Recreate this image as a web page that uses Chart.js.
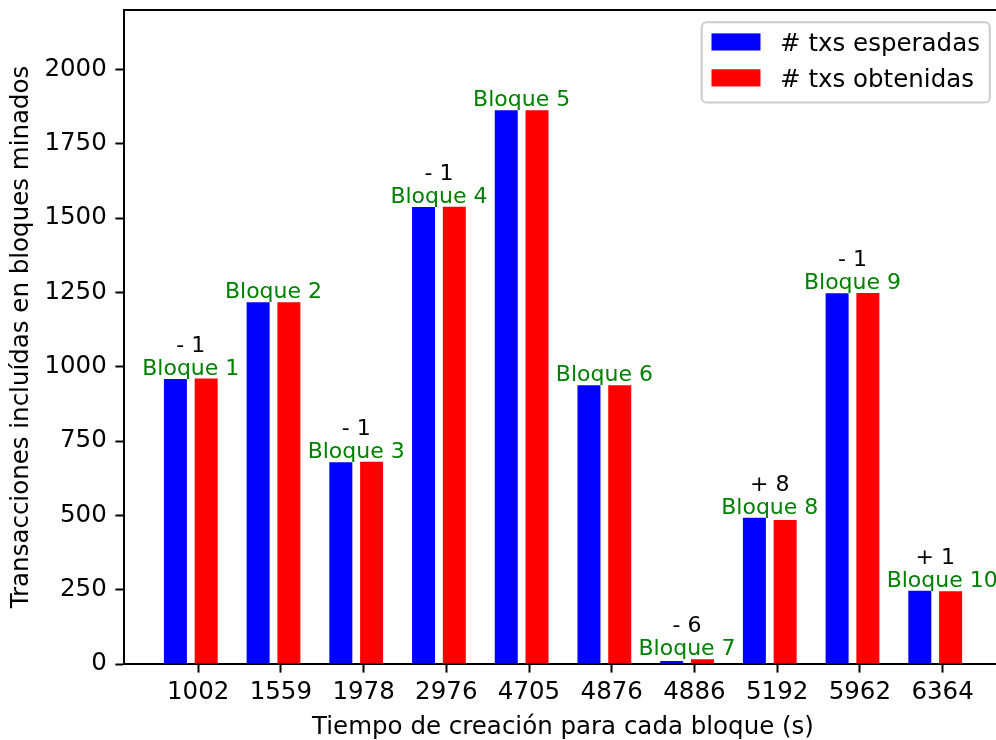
<!DOCTYPE html>
<html>
<head>
<meta charset="utf-8">
<script src="https://cdn.jsdelivr.net/npm/chart.js@4/dist/chart.umd.min.js"></script>
<style>
  html, body { margin: 0; padding: 0; background: #fff; overflow: hidden; }
  #wrap { width: 996px; height: 740px; overflow: hidden; }
  canvas { display: block; }
</style>
</head>
<body>
<div id="wrap"><canvas id="chart" width="1010" height="740" style="width:1010px;height:740px"></canvas></div>
<script>
// Creation time of each block (s), used as category labels
const BLOCK_TIMES = ['1002', '1559', '1978', '2976', '4705', '4876', '4886', '5192', '5962', '6364'];
const BLOCK_NAMES = ['Bloque 1', 'Bloque 2', 'Bloque 3', 'Bloque 4', 'Bloque 5',
                     'Bloque 6', 'Bloque 7', 'Bloque 8', 'Bloque 9', 'Bloque 10'];
// Transactions per mined block
const EXPECTED_TXS = [959, 1217, 679, 1537, 1863, 938, 10, 492, 1247, 246];
const OBTAINED_TXS = [960, 1217, 680, 1538, 1863, 938, 16, 484, 1248, 245];
const SERIES_LABELS = ['# txs esperadas', '# txs obtenidas'];
// Value axis ticks
const Y_TICKS = [0, 250, 500, 750, 1000, 1250, 1500, 1750, 2000];
const Y_MAX = 2200;

// Bar geometry in category units
const BAR_WIDTH = 0.278;
const BLUE_SHIFT = -0.275;
const RED_SHIFT = 0.097;
const PAIR_CENTER = (BLUE_SHIFT + RED_SHIFT) / 2;
// Block names start at a fixed offset left of each bar pair
const NAME_LEFT = PAIR_CENTER - 0.587;

const FONT = "'DejaVu Sans', 'Liberation Sans', sans-serif";
const BASE_SIZE = 24.5;
const LABEL_SIZE = 22;

Chart.defaults.font.family = FONT;
Chart.defaults.font.size = BASE_SIZE;
Chart.defaults.color = '#000';

const toPoints = (vals, shift) => vals.map((v, i) => ({ x: i + shift, y: v }));

// x limits: data extent plus 5% margin on both sides
const dataLo = BLUE_SHIFT - BAR_WIDTH / 2;
const dataHi = (BLOCK_TIMES.length - 1) + RED_SHIFT + BAR_WIDTH / 2;
const margin = (dataHi - dataLo) * 0.05;

const axisGrid = { offset: false, drawOnChartArea: false, drawTicks: true, tickLength: 8.6, tickWidth: 2, tickColor: '#000' };
const axisBorder = { display: true, color: '#000', width: 2 };

const topSpine = {
  id: 'topSpine',
  afterDraw(chart) {
    const { ctx, chartArea: a } = chart;
    ctx.save();
    ctx.strokeStyle = '#000';
    ctx.lineWidth = 2;
    ctx.beginPath();
    ctx.moveTo(a.left - 1, a.top);
    ctx.lineTo(a.right + 1, a.top);
    ctx.stroke();
    ctx.restore();
  }
};

const barLabels = {
  id: 'barLabels',
  afterDatasetsDraw(chart) {
    const { ctx } = chart;
    const xs = chart.scales.x, ys = chart.scales.y;
    ctx.save();
    ctx.font = LABEL_SIZE + 'px ' + FONT;
    ctx.textBaseline = 'alphabetic';
    BLOCK_NAMES.forEach((name, i) => {
      const e = EXPECTED_TXS[i], o = OBTAINED_TXS[i];
      const py = ys.getPixelForValue(Math.max(e, o)) - 4;
      ctx.fillStyle = '#008000';
      ctx.textAlign = 'left';
      ctx.fillText(name, xs.getPixelForValue(i + NAME_LEFT), py);
      const diff = e - o;
      if (diff !== 0) {
        ctx.fillStyle = '#000';
        ctx.textAlign = 'center';
        ctx.fillText((diff > 0 ? '+ ' : '- ') + Math.abs(diff), xs.getPixelForValue(i + PAIR_CENTER), py - 23);
      }
    });
    ctx.restore();
  }
};

const boxLegend = {
  id: 'boxLegend',
  afterDraw(chart) {
    const { ctx, chartArea: a } = chart;
    const em = BASE_SIZE;
    ctx.save();
    ctx.font = em + 'px ' + FONT;
    const textW = Math.max(...chart.data.datasets.map(d => ctx.measureText(d.label).width));
    const w = 0.4 * em + 2 * em + 0.8 * em + textW + 0.4 * em;
    const h = 80.3;
    const right = a.right - 0.5 * em;
    const top = a.top + 0.5 * em;
    const left = right - w;
    ctx.beginPath();
    ctx.roundRect(left, top, w, h, 0.2 * em);
    ctx.fillStyle = 'rgba(255,255,255,0.8)';
    ctx.fill();
    ctx.strokeStyle = '#cccccc';
    ctx.lineWidth = 2;
    ctx.stroke();
    const rows = [19.7, 55.6];
    const baselines = [28.8, 64.6];
    chart.data.datasets.forEach((d, k) => {
      ctx.fillStyle = d.backgroundColor;
      ctx.fillRect(left + 0.4 * em, top + rows[k] - 0.35 * em, 2 * em, 0.7 * em);
      ctx.fillStyle = '#000';
      ctx.textAlign = 'left';
      ctx.textBaseline = 'alphabetic';
      ctx.fillText(d.label, left + 3.2 * em, top + baselines[k]);
    });
    ctx.restore();
  }
};

new Chart(document.getElementById('chart'), {
  type: 'bar',
  data: {
    datasets: [
      {
        label: SERIES_LABELS[0],
        data: toPoints(EXPECTED_TXS, BLUE_SHIFT),
        backgroundColor: '#0000ff',
        borderWidth: 0,
        grouped: false,
        categoryPercentage: 1,
        barPercentage: BAR_WIDTH / (RED_SHIFT - BLUE_SHIFT)
      },
      {
        label: SERIES_LABELS[1],
        data: toPoints(OBTAINED_TXS, RED_SHIFT),
        backgroundColor: '#ff0000',
        borderWidth: 0,
        grouped: false,
        categoryPercentage: 1,
        barPercentage: BAR_WIDTH / (RED_SHIFT - BLUE_SHIFT)
      }
    ]
  },
  options: {
    responsive: false,
    animation: false,
    devicePixelRatio: 1,
    layout: { padding: { top: 10, right: 8, bottom: 0, left: 0 } },
    plugins: { legend: { display: false }, tooltip: { enabled: false } },
    scales: {
      x: {
        type: 'linear',
        min: dataLo - margin,
        max: dataHi + margin,
        offset: false,
        afterBuildTicks: s => { s.ticks = BLOCK_TIMES.map((_, i) => ({ value: i })); },
        afterFit: s => { s.height = 76; s.paddingLeft = 0; s.paddingRight = 0; },
        ticks: { callback: v => BLOCK_TIMES[v], padding: 5.4, maxRotation: 0, autoSkip: false },
        grid: axisGrid,
        border: axisBorder,
        title: {
          display: true,
          text: 'Tiempo de creación para cada bloque (s)',
          padding: { top: 1, bottom: 0 },
          font: { lineHeight: 1 }
        }
      },
      y: {
        min: 0,
        max: Y_MAX,
        afterBuildTicks: s => { s.ticks = Y_TICKS.map(v => ({ value: v })); },
        afterFit: s => { s.width = 124; s.paddingTop = 0; s.paddingBottom = 0; },
        ticks: { callback: v => String(v), padding: 8.6, autoSkip: false },
        grid: axisGrid,
        border: axisBorder,
        title: {
          display: true,
          text: 'Transacciones incluídas en bloques minados',
          padding: { top: 6.7, bottom: 0 }
        }
      }
    }
  },
  plugins: [topSpine, barLabels, boxLegend]
});
</script>
</body>
</html>
